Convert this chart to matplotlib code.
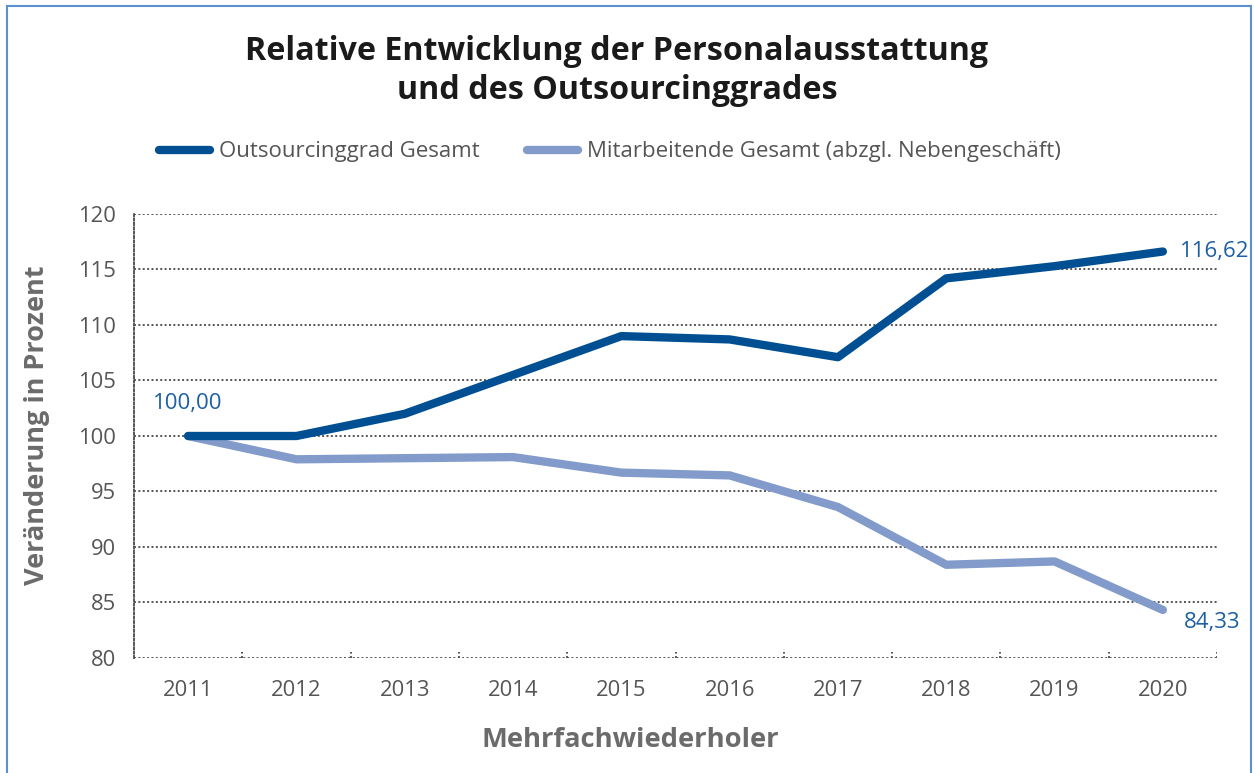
import matplotlib
matplotlib.use("Agg")
import matplotlib.pyplot as plt
from matplotlib.patches import Rectangle
import numpy as np

years = ["2011", "2012", "2013", "2014", "2015", "2016", "2017", "2018", "2019", "2020"]
outsourcing = [100.0, 100.0, 102.0, 105.5, 109.0, 108.7, 107.1, 114.2, 115.3, 116.62]
mitarbeitende = [100.0, 97.9, 98.0, 98.1, 96.7, 96.45, 93.6, 88.4, 88.7, 84.33]
yticks = [80, 85, 90, 95, 100, 105, 110, 115, 120]
series_names = ["Outsourcinggrad Gesamt", "Mitarbeitende Gesamt (abzgl. Nebengeschäft)"]
title = "Relative Entwicklung der Personalausstattung\nund des Outsourcinggrades"

dark = "#004f93"
light = "#829bca"
label_blue = "#1c5fa3"
grey_txt = "#555555"
dot_col = "#555555"
font = "Open Sans"

fig = plt.figure(figsize=(12.54, 7.73), dpi=100)
ax = fig.add_axes([134/1254, 1-658/773, (1217-134)/1254, (658-214)/773])

x = np.arange(len(years))
l1, = ax.plot(x, outsourcing, color=dark, lw=6, solid_capstyle="round", solid_joinstyle="round", zorder=5)
l2, = ax.plot(x, mitarbeitende, color=light, lw=6, solid_capstyle="round", solid_joinstyle="round", zorder=4)

ax.set_xlim(-0.5, len(years) - 0.5)
ax.set_ylim(yticks[0], yticks[-1])
dots = (0, (1, 1.25))
for yv in yticks:
    ax.axhline(yv, color=dot_col, lw=1.4, linestyle=dots, zorder=1)
for s in ["top", "right", "bottom"]:
    ax.spines[s].set_visible(False)
ax.spines["left"].set_linestyle(dots)
ax.spines["left"].set_linewidth(1.4)
ax.spines["left"].set_color(dot_col)

# category boundary ticks
for b in np.arange(0.5, len(years), 1.0):
    ax.plot([b, b], [yticks[0], yticks[0] + 0.55], color=dot_col, lw=1.4, linestyle=dots, zorder=1)

ax.set_xticks(x)
ax.set_xticklabels(years)
ax.set_yticks(yticks)
ax.tick_params(axis="both", length=0, labelsize=15.8, labelcolor=grey_txt)
ax.tick_params(axis="x", pad=16)
ax.tick_params(axis="y", pad=13)
for lab in ax.get_xticklabels() + ax.get_yticklabels():
    lab.set_fontfamily(font)

ax.set_ylabel("Veränderung in Prozent", fontsize=19.5, fontweight="bold", color="#6b6b6b",
              family=font)
ax.yaxis.set_label_coords(-(134-37)/1083, (658-425)/444)
ax.yaxis.label.set_va("center")
ax.set_xlabel("Mehrfachwiederholer", fontsize=19.7, fontweight="bold", color="#6b6b6b",
              family=font)
ax.xaxis.set_label_coords((630-134)/1083, -(740-658)/444)
ax.xaxis.label.set_va("center")

# data labels
ax.annotate(f"{outsourcing[0]:.2f}".replace(".", ","), (x[0], outsourcing[0]), xytext=(0, 16),
            textcoords="offset points", ha="center", va="bottom", fontsize=16, color=label_blue, family=font)
ax.annotate(f"{outsourcing[-1]:.2f}".replace(".", ","), (x[-1], outsourcing[-1]), xytext=(12, 0),
            textcoords="offset points", ha="left", va="center", fontsize=16, color=label_blue, family=font)
ax.annotate(f"{mitarbeitende[-1]:.2f}".replace(".", ","), (x[-1], mitarbeitende[-1]), xytext=(15, -9),
            textcoords="offset points", ha="left", va="center", fontsize=16, color=label_blue, family=font)

fig.text(617/1254, 1-71/773, title, ha="center", va="center", fontsize=23.2, fontweight="bold",
         color="#1a1a1a", family=font, linespacing=1.25)

leg = fig.legend([l1, l2], series_names, loc="center", bbox_to_anchor=(610/1254, 1-152/773),
                 ncol=2, frameon=False, handlelength=2.3, handletextpad=0.4, columnspacing=2.1,
                 prop={"family": font, "size": 16})
for t in leg.get_texts():
    t.set_color(grey_txt)
for h in leg.legend_handles:
    h.set_solid_capstyle("round")

fig.patches.append(Rectangle((7/1254, -0.05), (1251-7)/1254, 1.05 - 6/773, transform=fig.transFigure,
                             fill=False, edgecolor="#5b8fd0", lw=1.5))

fig.savefig("out.png", dpi=100)
